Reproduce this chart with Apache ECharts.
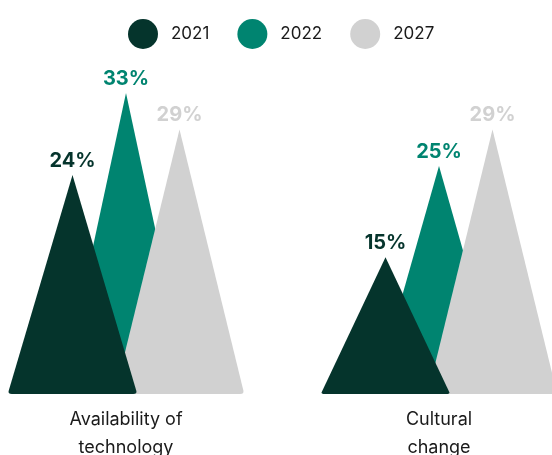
<!DOCTYPE html>
<html>
<head>
<meta charset="utf-8">
<script src="https://cdn.jsdelivr.net/npm/echarts@6/dist/echarts.min.js"></script>
<style>
  html, body { margin: 0; padding: 0; background: #ffffff; }
  #chart { width: 552px; height: 455px; }
</style>
</head>
<body>
<div id="chart"></div>
<script>
// Survey categories and yearly shares (%)
const categories = ['Availability of\ntechnology', 'Cultural\nchange'];
const years = ['2021', '2022', '2027'];
const values2021 = [24, 15];
const values2022 = [33, 25];
const values2027 = [29, 29];

const colors = { '2021': '#05342C', '2022': '#008470', '2027': '#D1D1D1' };
const FONT = 'Inter, "Noto Sans", sans-serif';

// Triangle with slightly rounded base corners
const triangle = 'path://M64,0 L127.2,296 Q128,300 124,300 L4,300 Q0,300 0.8,296 Z';

function peakSeries(name, data, z) {
  return {
    name: name,
    type: 'pictorialBar',
    data: data,
    z: z,
    barWidth: 53.5,
    barGap: '0%',
    symbol: triangle,
    symbolSize: [128, '100%'],
    symbolPosition: 'start',
    itemStyle: { color: colors[name] },
    label: {
      show: true,
      position: 'top',
      distance: 4,
      formatter: '{c}%',
      color: colors[name],
      fontFamily: FONT,
      fontWeight: 'bold',
      fontSize: 20
    },
    emphasis: { disabled: true }
  };
}

const chart = echarts.init(document.getElementById('chart'), null, { renderer: 'canvas' });
chart.setOption({
  animation: false,
  backgroundColor: '#ffffff',
  textStyle: { fontFamily: FONT },
  legend: {
    data: years,
    top: 14,
    left: 123,
    icon: 'circle',
    itemWidth: 30,
    itemHeight: 30,
    itemGap: 28,
    selectedMode: false,
    textStyle: { fontFamily: FONT, fontSize: 17, color: '#1a1a1a', padding: [0, 0, 0, 8] }
  },
  // plot area runs past both sides so the two groups sit near the edges
  grid: { left: -30.5, right: -43.5, top: 29, bottom: 61, outerBoundsMode: 'none', containLabel: false },
  xAxis: {
    type: 'category',
    data: categories,
    axisLine: { show: false },
    axisTick: { show: false },
    axisLabel: {
      margin: 12,
      fontFamily: FONT,
      fontSize: 18,
      lineHeight: 28,
      color: '#1a1a1a',
      interval: 0
    }
  },
  yAxis: {
    type: 'value',
    min: 0,
    max: 40,
    show: false,
    splitLine: { show: false }
  },
  series: [
    peakSeries('2021', values2021, 4),
    peakSeries('2022', values2022, 2),
    peakSeries('2027', values2027, 3)
  ]
});
</script>
</body>
</html>
